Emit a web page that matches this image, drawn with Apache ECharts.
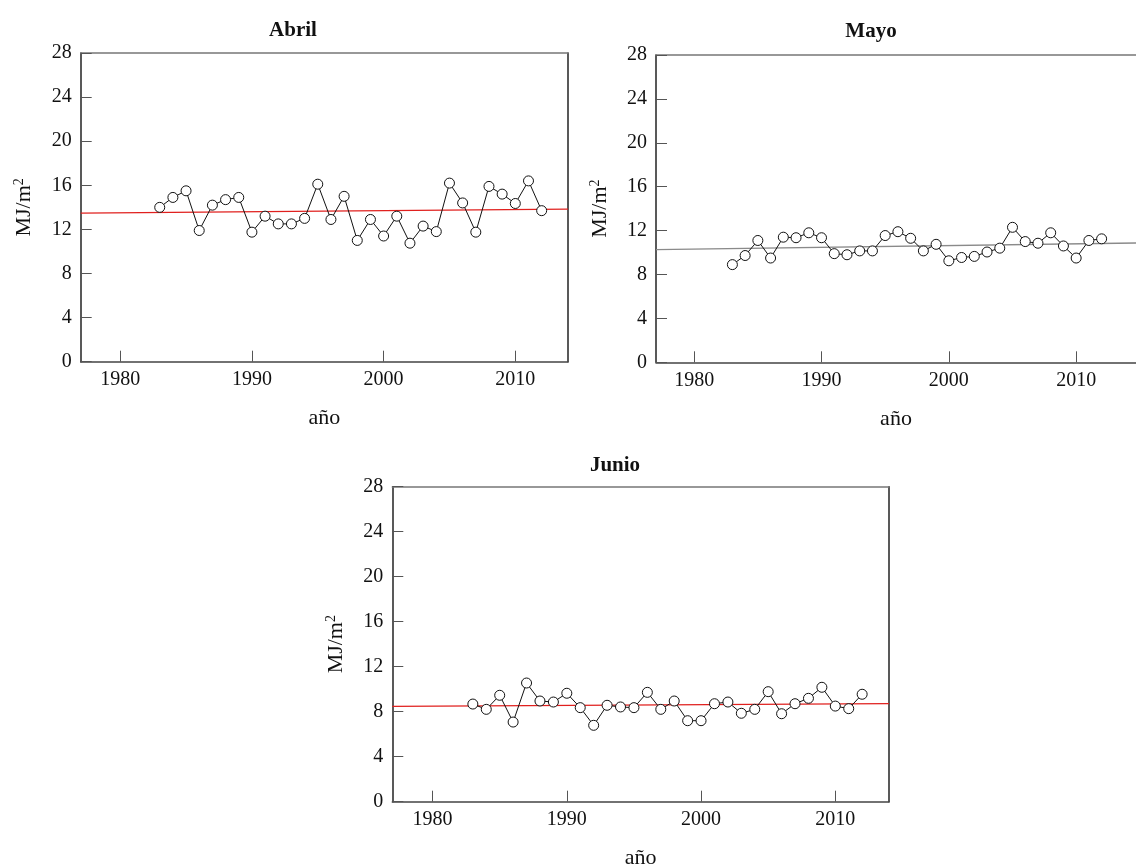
<!DOCTYPE html>
<html>
<head>
<meta charset="utf-8">
<script src="https://cdn.jsdelivr.net/npm/echarts@6/dist/echarts.min.js"></script>
<style>
  html, body { margin: 0; padding: 0; background: #fff; }
  #chart { width: 1136px; height: 867px; }
</style>
</head>
<body>
<div id="chart"></div>
<script>
// data
var years = [1983, 1984, 1985, 1986, 1987, 1988, 1989, 1990, 1991, 1992,
             1993, 1994, 1995, 1996, 1997, 1998, 1999, 2000, 2001, 2002,
             2003, 2004, 2005, 2006, 2007, 2008, 2009, 2010, 2011, 2012];
var abril = [14.0, 14.9, 15.5, 11.9, 14.2, 14.7, 14.9, 11.75, 13.2, 12.5,
             12.5, 13.0, 16.1, 12.9, 15.0, 11.0, 12.9, 11.4, 13.2, 10.75,
             12.3, 11.8, 16.2, 14.4, 11.75, 15.9, 15.2, 14.35, 16.4, 13.7];
var mayo = [8.9, 9.73, 11.1, 9.5, 11.4, 11.35, 11.8, 11.35, 9.9, 9.8,
            10.15, 10.15, 11.55, 11.9, 11.3, 10.15, 10.75, 9.25, 9.55, 9.65,
            10.05, 10.4, 12.3, 11.0, 10.85, 11.8, 10.6, 9.5, 11.1, 11.25];
var junio = [8.68, 8.21, 9.46, 7.08, 10.55, 8.95, 8.86, 9.64, 8.36, 6.79,
             8.57, 8.42, 8.36, 9.72, 8.21, 8.95, 7.2, 7.2, 8.71, 8.86,
             7.86, 8.21, 9.78, 7.82, 8.71, 9.19, 10.17, 8.5, 8.27, 9.55];
// trend line end points [x, y]
var abrilTrend = [[1977, 13.47], [2014, 13.83]];
var mayoTrend = [[1977, 10.27], [2014.7, 10.87]];
var junioTrend = [[1977, 8.48], [2014, 8.71]];
var titles = ["Abril", "Mayo", "Junio"];
var yTicks = [0, 4, 8, 12, 16, 20, 24, 28];
var xTicks = [1980, 1990, 2000, 2010];

var font = "Liberation Serif";

function pairs(ys) {
    return years.map(function (y, i) { return [y, ys[i]]; });
}

var grids = [
    { left: 80.7, top: 53, width: 487.3, height: 308.7, outerBoundsMode: "none" },
    { left: 656, top: 55, width: 480, height: 307.3, outerBoundsMode: "none" },
    { left: 392.3, top: 486.7, width: 496.7, height: 315, outerBoundsMode: "none" }
];
var xMax = [2014, 2014.7, 2014];
var rightBorder = [true, false, true];

var xAxis = [], yAxis = [], series = [];
grids.forEach(function (g, i) {
    // bottom axis
    xAxis.push({
        type: "value", gridIndex: i, min: 1977, max: xMax[i],
        name: "año", nameLocation: "middle", nameGap: 46,
        nameTextStyle: { fontFamily: font, fontSize: 22, color: "#111" },
        axisLine: { lineStyle: { color: "#444", width: 1.5 } },
        axisTick: { inside: true, length: 11, customValues: xTicks, lineStyle: { color: "#555" } },
        axisLabel: {
            customValues: xTicks, fontFamily: font, fontSize: 20, color: "#111", margin: 8,
            formatter: function (v) { return String(v); }
        },
        splitLine: { show: false }
    });
    // top border
    xAxis.push({
        type: "value", gridIndex: i, min: 1977, max: xMax[i], position: "top",
        axisLine: { show: true, onZero: false, lineStyle: { color: "#777", width: 1.5 } },
        axisTick: { show: false }, axisLabel: { show: false }, splitLine: { show: false }
    });
    yAxis.push({
        type: "value", gridIndex: i, min: 0, max: 28, interval: 4,
        name: "MJ/m{sup|2}", nameLocation: "middle", nameGap: 44, nameRotate: 90,
        nameTextStyle: {
            fontFamily: font, fontSize: 22, color: "#111",
            rich: { sup: { fontFamily: font, fontSize: 14, verticalAlign: "top", padding: [0, 0, 10, 0] } }
        },
        axisLine: { show: true, lineStyle: { color: "#222", width: 1.5 } },
        axisTick: { inside: true, length: 11, lineStyle: { color: "#555" } },
        axisLabel: { fontFamily: font, fontSize: 20, color: "#111", margin: 9 },
        splitLine: { show: false }
    });
    // right border
    yAxis.push({
        type: "value", gridIndex: i, min: 0, max: 28, position: "right",
        axisLine: { show: rightBorder[i], onZero: false, lineStyle: { color: "#222", width: 1.5 } },
        axisTick: { show: false }, axisLabel: { show: false }, splitLine: { show: false }
    });
});

var sets = [[abril, abrilTrend, "#e0201e"], [mayo, mayoTrend, "#8a8a8a"], [junio, junioTrend, "#e0201e"]];
sets.forEach(function (s, i) {
    series.push({
        type: "line", xAxisIndex: 2 * i, yAxisIndex: 2 * i,
        data: s[1], symbol: "none", silent: true,
        lineStyle: { color: s[2], width: 1.3 }, z: 2
    });
    series.push({
        type: "line", xAxisIndex: 2 * i, yAxisIndex: 2 * i,
        data: pairs(s[0]), symbol: "circle", symbolSize: 10,
        itemStyle: { color: "#fff", borderColor: "#111", borderWidth: 1 },
        lineStyle: { color: "#111", width: 1 }, z: 3
    });
});

var chart = echarts.init(document.getElementById("chart"));
chart.setOption({
    backgroundColor: "#fff",
    animation: false,
    title: [
        { text: titles[0], left: 288, top: 15, textAlign: "center" },
        { text: titles[1], left: 866, top: 16, textAlign: "center" },
        { text: titles[2], left: 610, top: 450, textAlign: "center" }
    ].map(function (t) {
        t.textStyle = { fontFamily: font, fontSize: 21, fontWeight: "bold", color: "#111" };
        return t;
    }),
    grid: grids,
    xAxis: xAxis,
    yAxis: yAxis,
    series: series
});
</script>
</body>
</html>
